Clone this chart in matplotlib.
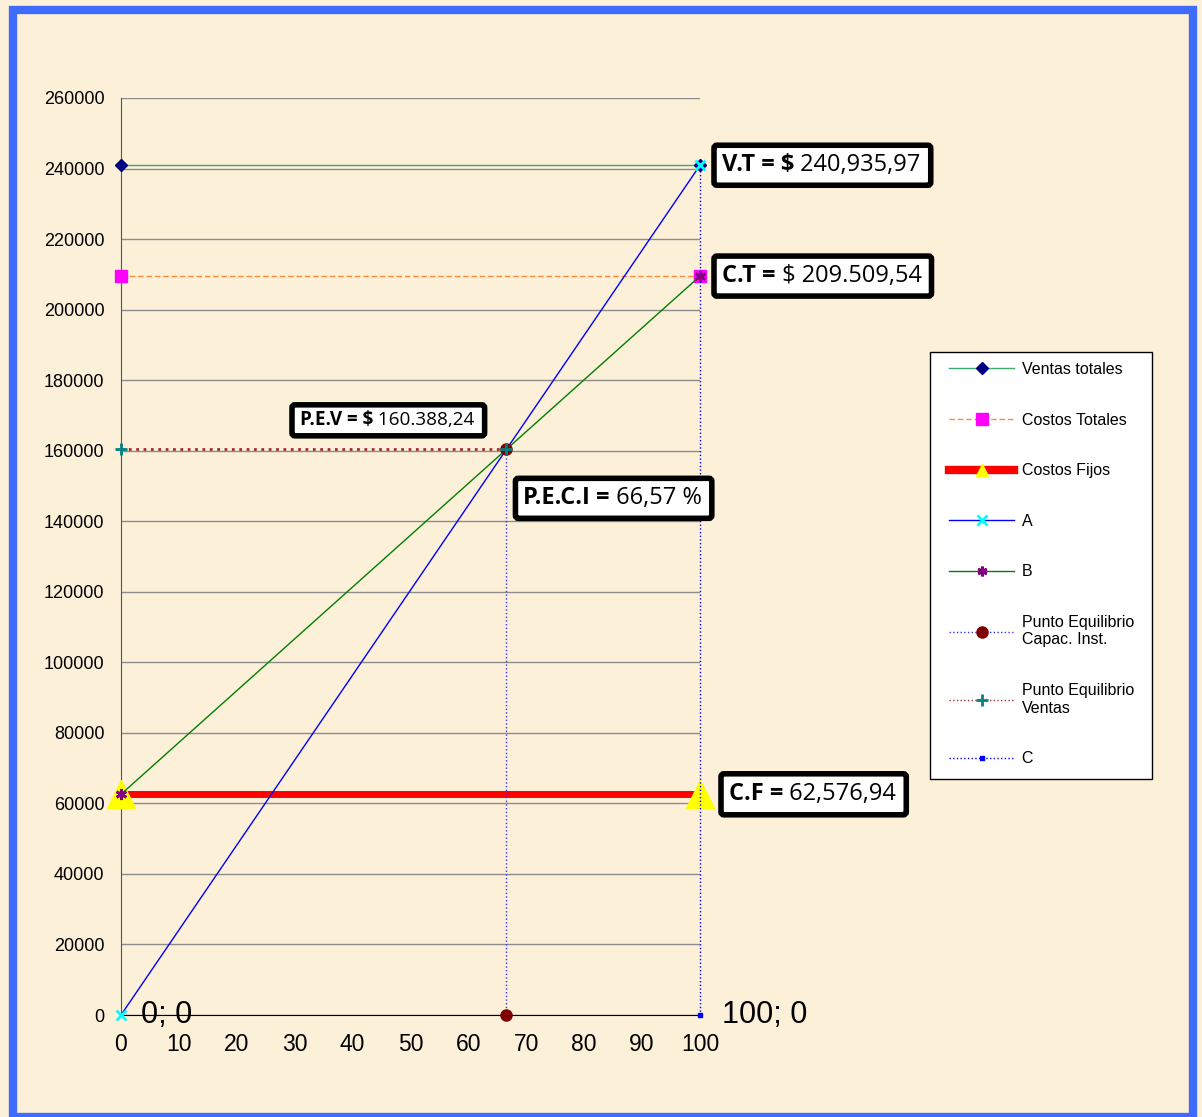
import numpy as np
import matplotlib.pyplot as plt
from matplotlib.patches import Rectangle, FancyBboxPatch
from matplotlib.transforms import Bbox, IdentityTransform

# chart values
x_ends = [0, 100]
ventas_totales = [240935.97, 240935.97]
costos_totales = [209509.54, 209509.54]
costos_fijos = [62576.94, 62576.94]
line_a = [0, 240935.97]
line_b = [62576.94, 209509.54]
pe_x = [66.57, 66.57]
pe_capac = [0, 160388.24]
pe_ventas_x = [0, 66.57]
pe_ventas = [160388.24, 160388.24]
c_x = [100, 100]
c_y = [0, 240935.97]

y_ticks = list(range(0, 260001, 20000))
x_ticks = list(range(0, 101, 10))

W, H = 1202, 1117
bg = '#FCF0D8'
plt.rcParams['font.family'] = ['Liberation Sans', 'DejaVu Sans']

fig = plt.figure(figsize=(W / 100, H / 100), dpi=100, facecolor=bg)
ax = fig.add_axes([121 / W, 1 - 1015 / H, (700 - 121) / W, (1015 - 98) / H])
ax.set_facecolor('none')

# outer blue frame
fig.patches.append(Rectangle((13 / W, 0), 1180 / W, 1 - 10 / H, transform=fig.transFigure,
                             fill=False, edgecolor='#3F6BFF', linewidth=6, zorder=0))

ax.set_xlim(0, 100)
ax.set_ylim(0, 260000)
ax.set_yticks(y_ticks)
ax.set_xticks(x_ticks)
ax.set_yticklabels([str(v) for v in y_ticks], fontsize=13)
ax.set_xticklabels([str(v) for v in x_ticks], fontsize=16.5)
ax.tick_params(axis='y', length=0, pad=12)
ax.tick_params(axis='x', length=0, pad=13)
ax.grid(axis='y', color='#8C8C8C', linewidth=1)
ax.set_axisbelow(True)
for s in ['top', 'right']:
    ax.spines[s].set_visible(False)
ax.spines['left'].set_color('#555555')
ax.spines['bottom'].set_color('black')

kw = dict(clip_on=False)
ax.plot(x_ends, ventas_totales, color='#3CAA6E', lw=1, marker='D', ms=6,
        mfc='#000080', mec='#000080', label='Ventas totales', zorder=5, **kw)
ax.plot(x_ends, costos_totales, color='#FF8C3C', lw=1, ls=(0, (4, 2)), marker='s', ms=8,
        mfc='#FF00FF', mec='#FF00FF', label='Costos Totales', zorder=5, **kw)
ax.plot(x_ends, costos_fijos, color='#FF0000', lw=5, marker='^', ms=20,
        mfc='#FFFF00', mec='#FFFF00', label='Costos Fijos', zorder=4, **kw)
ax.plot(x_ends, line_a, color='#0000FF', lw=1, marker='x', ms=7, mew=2,
        mec='#00FFFF', label='A', zorder=6, **kw)
ax.plot(x_ends, line_b, color='#008000', lw=1, marker=(6, 2, 0), ms=8, mew=2,
        mec='#800080', label='B', zorder=6, **kw)
ax.plot(pe_x, pe_capac, color='#3333FF', lw=1, ls=':', marker='o', ms=8,
        mfc='#800000', mec='#800000', label='Punto Equilibrio\nCapac. Inst.', zorder=6, **kw)
ax.plot(pe_ventas_x, pe_ventas, color='#A03030', lw=2, ls=':', marker='+', ms=8, mew=2,
        mec='#008080', label='Punto Equilibrio\nVentas', zorder=7, **kw)
ax.plot(c_x, c_y, color='#0000FF', lw=1, ls=':', marker='s', ms=3,
        mfc='#0000FF', mec='#0000FF', label='C', zorder=5, **kw)

# point labels
ax.annotate('0; 0', xy=(0, 0), xytext=(20, 0), textcoords='offset pixels',
            fontsize=22, va='center', ha='left')
ax.annotate('100; 0', xy=(100, 0), xytext=(22, 0), textcoords='offset pixels',
            fontsize=22, va='center', ha='left')

# legend: white panel drawn separately so the inner padding can be wider than the row padding
fig.patches.append(Rectangle((930 / W, 1 - 779 / H), 222 / W, 427 / H, transform=fig.transFigure,
                             facecolor='white', edgecolor='black', linewidth=1, zorder=3))
leg = fig.legend(loc='upper left', bbox_to_anchor=(949 / W, 1 - 362 / H), borderaxespad=0,
                 fontsize=11.5, numpoints=1, handlelength=4.1, handletextpad=0.45,
                 labelspacing=2.23, borderpad=0, frameon=False)
leg.set_zorder(4)
for h, ms in zip(leg.legend_handles, [6, 8, 9, 7, 7, 8, 8, 3]):
    h.set_markersize(ms)
leg.legend_handles[2].set_linewidth(6)
leg.legend_handles[6].set_linewidth(1)

# value boxes: bold prefix + regular value, framed together
boxes = [
    ('V.T = $', ' 240,935,97', (100, ventas_totales[1]), (22, 0), 17, 40),
    ('C.T =', ' $ 209.509,54', (100, costos_totales[1]), (22, 0), 17, 40),
    ('P.E.V = $', ' 160.388,24', (0, pe_ventas[0]), (179, 29), 13.6, 31),
    ('P.E.C.I =', ' 66,57 %', (pe_x[0], pe_capac[1]), (17, -49), 17, 40),
    ('C.F =', ' 62,576,94', (100, costos_fijos[1]), (29, 0), 17, 41),
]
font = ['Open Sans', 'DejaVu Sans']
pairs = []
for bold, reg, xy, off, fs, bh in boxes:
    t1 = ax.annotate(bold, xy=xy, xytext=off, textcoords='offset pixels', fontsize=fs,
                     fontweight='bold', va='center', ha='left', family=font,
                     annotation_clip=False, zorder=10)
    t2 = ax.annotate(reg, xy=(1, 0.5), xycoords=t1, va='center', ha='left',
                     fontsize=fs, family=font, annotation_clip=False, zorder=10)
    pairs.append((t1, t2, bh))

fig.canvas.draw()
r = fig.canvas.get_renderer()
for t1, t2, bh in pairs:
    bb = Bbox.union([t1.get_window_extent(r), t2.get_window_extent(r)])
    padx = 8
    cy = (bb.y0 + bb.y1) / 2
    p = FancyBboxPatch((bb.x0 - padx, cy - bh / 2), bb.width + 2 * padx + 2, bh,
                       boxstyle='round,pad=0,rounding_size=3', transform=IdentityTransform(),
                       facecolor='white', edgecolor='black', linewidth=4, zorder=9, clip_on=False)
    ax.add_artist(p)

fig.savefig('out.png', dpi=100, facecolor=bg)
